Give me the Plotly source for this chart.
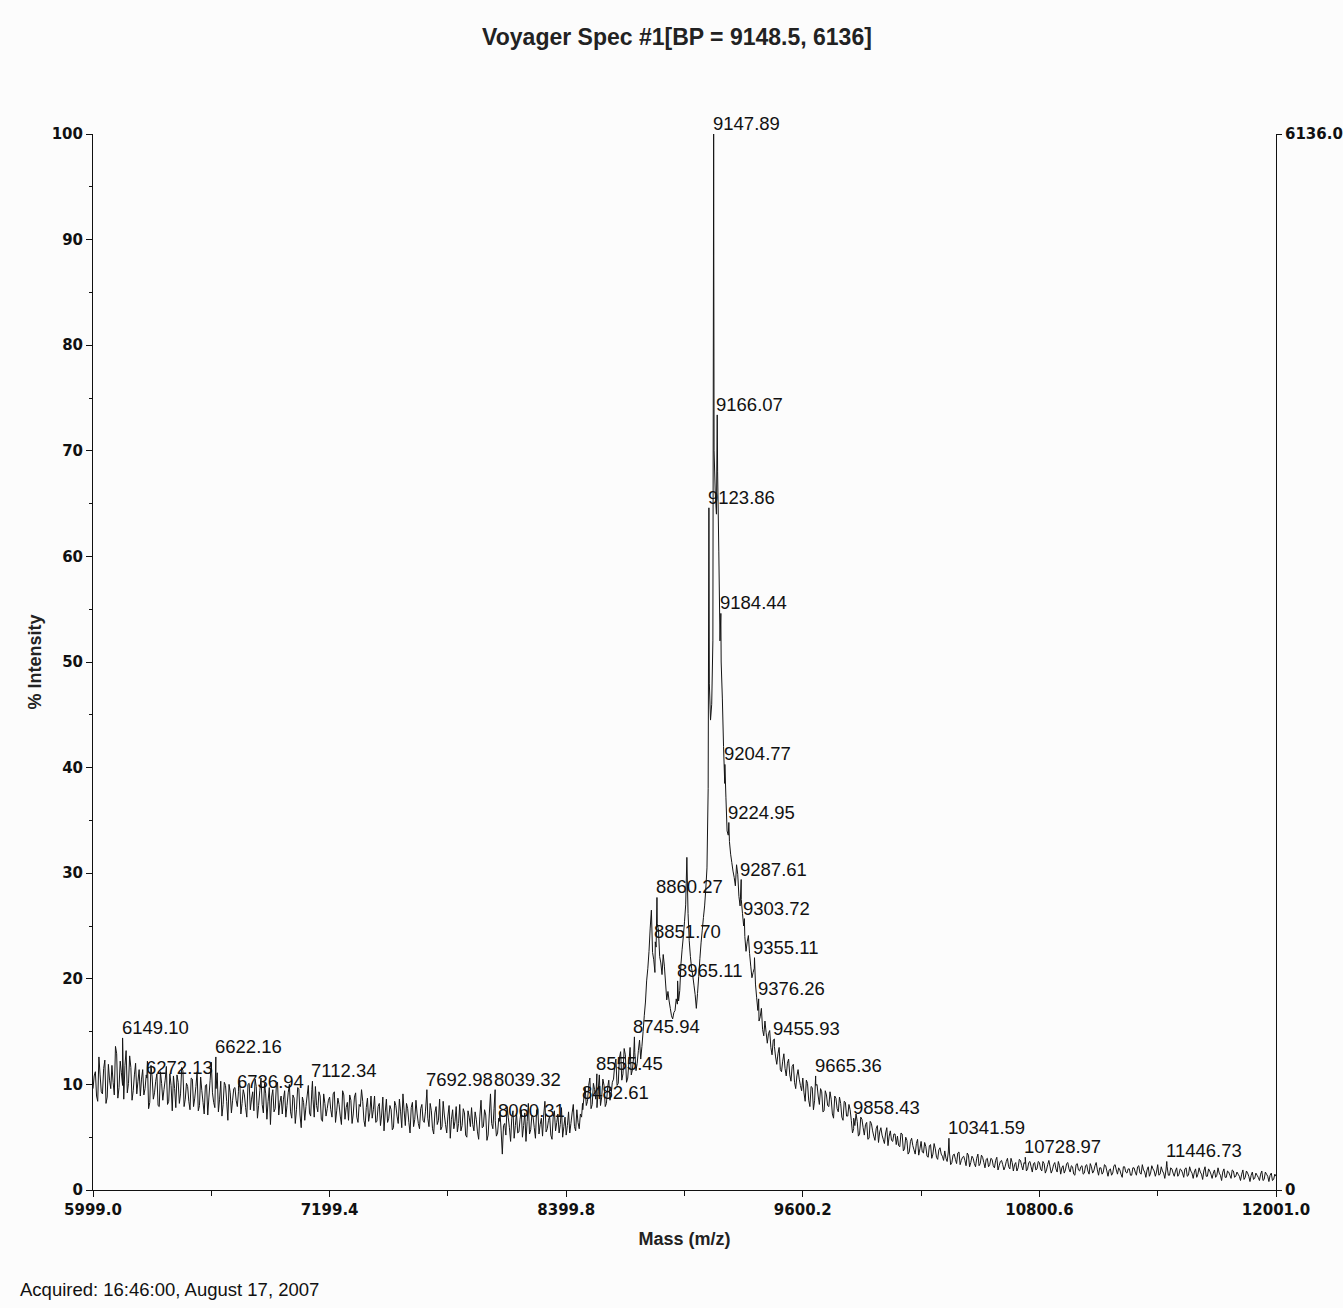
import numpy as np
import plotly.graph_objects as go

# Acquisition window (m/z) and channel intensities, % of base peak
mz_first = 5999.0
mz_last = 12001.0
intensity = [
    9.6, 11.2, 8.4, 10.9, 9.1, 12.3, 8.8, 10.4, 11.8, 9.0, 12.9, 9.7, 11.1, 8.6, 13.2, 10.1, 11.6, 9.4, 12.0, 10.3,
    8.9, 11.4, 9.6, 12.2, 8.3, 10.7, 9.2, 11.0, 7.9, 10.1, 9.5, 11.7, 8.4, 9.9, 10.8, 7.8, 10.2, 9.1, 11.3, 8.6,
    9.8, 7.6, 10.5, 8.7, 11.2, 8.0, 9.4, 7.2, 10.0, 8.8, 12.1, 8.3, 9.6, 7.4, 10.3, 8.1, 9.9, 6.6, 9.2, 8.5,
    9.7, 7.9, 10.4, 8.2, 9.0, 6.9, 10.1, 8.6, 7.5, 9.8, 8.0, 10.6, 7.3, 9.1, 8.4, 6.2, 9.5, 7.7, 10.2, 8.3,
    7.2, 9.4, 8.0, 10.0, 6.8, 8.7, 7.6, 9.6, 5.9, 8.3, 7.9, 9.9, 7.0, 8.6, 9.8, 7.4, 8.9, 6.5, 8.2, 7.7,
    8.8, 6.9, 9.3, 7.5, 8.1, 6.2, 9.0, 7.8, 6.6, 8.5, 7.2, 9.2, 6.4, 7.9, 8.4, 6.0, 8.7, 7.3, 6.8, 8.9,
    6.5, 8.2, 7.1, 5.6, 8.6, 6.8, 7.6, 5.9, 8.0, 6.3, 7.4, 9.1, 6.1, 7.7, 5.4, 8.3, 6.7, 7.2, 5.8, 8.1,
    6.4, 9.0, 6.0, 7.5, 5.3, 7.9, 6.6, 5.7, 8.4, 6.2, 7.0, 4.9, 7.6, 6.5, 5.5, 8.1, 6.1, 7.3, 5.0, 6.9,
    7.8, 5.6, 6.7, 4.8, 8.5, 6.0, 7.1, 5.2, 9.1, 5.8, 6.6, 5.4, 7.4, 3.4, 6.3, 7.9, 5.9, 6.8, 4.9, 7.3,
    5.5, 7.6, 6.1, 4.6, 8.2, 5.7, 6.9, 4.9, 7.7, 6.2, 5.1, 8.4, 5.8, 7.0, 4.8, 7.5, 6.4, 5.4, 7.8, 6.0,
    5.2, 7.4, 6.3, 8.1, 5.6, 6.4, 7.2, 7.6, 9.7, 8.4, 10.6, 8.1, 9.5, 7.8, 10.9, 8.8, 9.9, 8.2, 10.4, 9.1,
    10.5, 12.4, 10.1, 13.1, 11.0, 12.8, 10.6, 13.5, 11.4, 13.0, 12.0, 14.2, 13.6, 16.5, 19.8, 22.6, 26.5, 21.8, 23.0, 24.6,
    21.5, 22.3, 19.6, 18.8, 17.2, 16.2, 17.0, 17.6, 18.9, 22.8, 25.4, 31.5, 23.6, 21.0, 19.4, 17.2, 20.2, 23.4, 25.8, 28.5,
    38.0, 44.5, 52.0, 66.0, 68.0, 52.0, 46.5, 38.5, 34.0, 33.0, 31.0, 29.6, 30.8, 27.8, 27.5, 25.0, 22.6, 24.1, 21.2, 20.6,
    19.5, 17.0, 16.4, 15.2, 16.0, 13.9, 15.1, 12.8, 13.6, 11.9, 13.5, 11.2, 12.9, 10.8, 12.4, 10.3, 11.9, 9.6, 11.4, 9.9,
    10.6, 8.4, 10.1, 7.9, 9.7, 8.5, 10.0, 8.1, 9.3, 7.5, 9.0, 7.9, 8.6, 6.8, 8.7, 7.4, 8.2, 6.6, 8.3, 7.0,
    7.6, 5.4, 6.1, 6.5, 5.3, 6.7, 5.2, 6.4, 4.9, 6.3, 5.1, 5.8, 4.5, 5.9, 4.8, 5.4, 4.2, 5.6, 4.6, 5.3,
    5.1, 4.1, 5.3, 3.9, 4.7, 3.6, 4.9, 3.8, 4.4, 3.3, 4.6, 3.5, 4.1, 3.1, 4.3, 3.4, 3.9, 2.9, 4.0, 3.2,
    3.7, 2.7, 3.5, 2.6, 3.4, 2.5, 3.6, 2.8, 3.2, 2.3, 3.3, 2.6, 3.0, 2.2, 3.4, 2.5, 3.1, 2.1, 3.0, 2.4,
    2.9, 2.1, 3.1, 2.3, 2.8, 1.9, 2.7, 2.2, 3.0, 1.8, 2.6, 2.1, 2.8, 1.9, 2.5, 2.0, 2.7, 1.7, 2.6, 2.0,
    2.6, 1.8, 2.5, 1.9, 2.8, 1.6, 2.4, 2.0, 2.7, 1.5, 2.3, 1.9, 2.6, 1.7, 2.2, 1.4, 2.5, 1.8, 2.3, 1.6,
    2.4, 1.5, 2.2, 1.8, 2.6, 1.4, 2.1, 1.7, 2.3, 1.3, 2.0, 1.6, 2.4, 1.5, 1.9, 1.2, 2.2, 1.6, 2.0, 1.4,
    2.1, 1.4, 2.3, 1.5, 1.9, 1.2, 2.2, 1.6, 2.0, 1.3, 2.4, 1.5, 1.8, 1.1, 2.2, 1.4, 2.0, 1.3, 2.1, 1.5,
    1.9, 1.2, 2.1, 1.4, 1.8, 1.1, 2.0, 1.5, 1.7, 1.0, 2.2, 1.3, 1.8, 1.1, 1.9, 1.4, 1.6, 0.9, 2.0, 1.2,
    1.7, 1.1, 1.8, 1.3, 1.5, 0.9, 1.9, 1.2, 1.6, 0.8, 1.7, 1.1, 1.4, 0.9, 1.8, 1.0, 1.5, 0.8, 1.6, 1.0,
    1.3,
]

# Intensities of the interleaved channels (half-way between the ones above)
intensity_mid = [
    10.8, 8.9, 12.6, 9.3, 11.5, 8.2, 11.9, 9.6, 10.2, 13.6, 8.7, 12.2, 9.9, 11.8, 9.2, 12.7, 8.5, 10.9, 9.1, 11.4,
    10.5, 9.0, 10.9, 7.7, 11.8, 8.6, 10.3, 8.0, 11.2, 8.5, 10.4, 8.1, 11.0, 7.5, 9.6, 10.9, 8.2, 11.6, 7.9, 10.1,
    8.4, 10.6, 7.9, 9.8, 7.5, 10.7, 8.3, 9.9, 7.1, 10.4, 9.2, 7.8, 11.1, 8.6, 7.0, 10.2, 8.4, 10.0, 7.3, 9.6,
    8.5, 9.9, 7.2, 9.5, 7.8, 10.0, 7.6, 9.3, 10.5, 6.8, 9.4, 8.1, 10.1, 6.7, 9.7, 8.8, 7.4, 9.9, 7.1, 8.9,
    8.6, 6.9, 9.2, 7.4, 9.0, 6.3, 9.7, 7.1, 8.8, 6.6, 8.9, 7.3, 9.5, 6.9, 8.0, 9.3, 6.7, 9.1, 7.0, 8.5,
    7.6, 9.1, 6.4, 8.7, 7.0, 9.4, 6.7, 8.3, 9.0, 6.3, 8.8, 6.9, 8.1, 9.5, 6.6, 7.8, 6.5, 8.9, 7.6, 6.4,
    7.9, 6.1, 8.8, 7.3, 6.4, 8.0, 5.7, 8.4, 7.0, 8.6, 5.9, 7.5, 8.2, 6.4, 7.8, 6.0, 8.5, 6.3, 7.7, 6.6,
    7.4, 6.8, 8.2, 5.8, 7.3, 6.2, 8.6, 6.0, 7.1, 5.4, 8.0, 6.7, 5.8, 7.9, 6.3, 5.6, 7.7, 5.2, 7.5, 6.0,
    6.2, 7.4, 5.5, 7.0, 5.9, 7.6, 4.7, 7.2, 6.3, 7.7, 5.1, 6.8, 5.6, 6.1, 5.2, 6.9, 4.6, 7.5, 6.1, 5.4,
    6.7, 5.0, 7.3, 6.5, 5.3, 7.1, 5.9, 7.6, 5.3, 6.8, 7.1, 5.5, 6.6, 5.2, 6.9, 5.6, 7.2, 6.2, 5.0, 6.9,
    6.1, 5.4, 7.3, 6.0, 7.6, 5.8, 6.9, 8.8, 8.0, 9.9, 7.7, 10.1, 8.6, 9.3, 8.0, 10.5, 7.9, 9.7, 8.5, 10.2,
    11.8, 9.9, 12.5, 10.4, 13.4, 10.2, 12.1, 10.9, 12.6, 11.3, 13.2, 12.4, 15.0, 17.8, 21.0, 24.8, 22.5, 20.6, 25.2, 22.1,
    20.4, 21.2, 18.0, 17.9, 16.5, 16.8, 18.1, 17.9, 21.4, 24.0, 27.0, 26.2, 22.1, 20.3, 18.5, 18.6, 21.9, 24.6, 26.9, 30.5,
    48.0, 46.0, 70.0, 64.0, 60.5, 50.0, 42.0, 37.2, 33.6, 31.8, 30.2, 28.8, 29.9, 26.9, 26.2, 24.0, 23.5, 22.4, 20.1, 21.0,
    18.2, 16.0, 17.2, 14.6, 14.9, 14.8, 13.5, 14.2, 12.6, 12.9, 11.4, 12.2, 11.5, 12.0, 10.9, 11.7, 10.2, 10.8, 10.5, 9.4,
    9.2, 10.4, 8.5, 9.8, 7.6, 9.9, 8.9, 9.6, 7.4, 9.4, 8.0, 9.3, 7.2, 8.9, 7.7, 8.8, 6.9, 8.4, 7.0, 8.1,
    6.6, 5.8, 7.2, 5.1, 6.9, 5.9, 6.2, 4.8, 6.5, 5.6, 4.7, 6.1, 5.5, 5.2, 4.4, 5.9, 5.1, 4.7, 5.3, 4.3,
    4.2, 5.4, 3.7, 5.0, 3.4, 4.6, 4.2, 3.4, 4.8, 3.9, 3.6, 4.5, 3.2, 4.2, 3.0, 4.4, 3.1, 3.8, 3.4, 2.8,
    3.0, 3.6, 2.4, 3.3, 2.9, 3.5, 2.4, 3.1, 2.8, 3.5, 2.2, 3.2, 2.5, 3.0, 2.3, 3.3, 2.6, 2.9, 2.2, 3.0,
    2.3, 2.8, 1.9, 2.7, 2.4, 2.2, 3.0, 2.0, 2.6, 2.4, 1.8, 2.9, 2.3, 2.6, 1.8, 2.6, 2.2, 2.5, 1.9, 2.7,
    2.0, 2.7, 1.6, 2.4, 2.2, 1.9, 2.6, 1.7, 2.3, 2.1, 1.6, 2.5, 2.0, 2.3, 1.5, 2.4, 1.9, 2.2, 1.5, 2.3,
    1.8, 2.5, 1.6, 2.3, 1.9, 2.1, 1.5, 2.4, 1.8, 1.9, 1.4, 2.3, 1.9, 2.1, 1.5, 2.2, 1.7, 2.0, 1.4, 2.1,
    1.7, 2.2, 1.6, 2.4, 1.7, 1.9, 1.3, 2.3, 1.8, 1.7, 1.4, 2.2, 1.6, 1.9, 1.4, 2.1, 1.6, 1.8, 1.3, 2.0,
    1.6, 2.0, 1.3, 2.2, 1.6, 1.7, 1.2, 2.1, 1.5, 1.8, 1.3, 2.0, 1.5, 1.6, 1.2, 2.1, 1.4, 1.7, 1.2, 1.8,
    1.4, 1.9, 1.2, 1.7, 1.3, 1.5, 1.0, 1.8, 1.3, 1.4, 1.0, 1.6, 1.2, 1.5, 0.9, 1.7, 1.3, 1.4, 0.9, 1.5,
]

# Centroided peaks that carry an m/z label
peak_mz = [
    6149.10, 6272.13, 6622.16, 6736.94, 7112.34, 7692.98, 8039.32, 8060.31,
    8482.61, 8555.45, 8745.94, 8851.70, 8860.27, 8965.11, 9123.86, 9147.89,
    9166.07, 9184.44, 9204.77, 9224.95, 9287.61, 9303.72, 9355.11, 9376.26,
    9455.93, 9665.36, 9858.43, 10341.59, 10728.97, 11446.73,
]
peak_int = [
    14.4, 10.6, 12.6, 9.3, 10.3, 9.5, 9.5, 6.5,
    8.2, 11.0, 14.5, 23.5, 27.7, 19.8, 64.6, 100.0,
    73.4, 54.6, 40.3, 34.8, 29.4, 25.7, 22.0, 18.1,
    14.3, 10.8, 6.8, 4.9, 3.1, 2.7,
]

# Axis ticks
x_tickvals = [5999.0, 7199.4, 8399.8, 9600.2, 10800.6, 12001.0]
x_minorvals = [6599.2, 7799.6, 9000.0, 10200.4, 11400.8]
y_tickvals = [0, 10, 20, 30, 40, 50, 60, 70, 80, 90, 100]
counts_tickvals = [0, 6136]
counts_ticktext = ["0", "6136.0"]

# Channel m/z positions, interleaved channels, labelled centroids, all in m/z order
mz_grid = np.linspace(mz_first, mz_last, len(intensity))
mz_mid = (mz_grid[:-1] + mz_grid[1:]) / 2
mz_all = np.concatenate([mz_grid, mz_mid, np.array(peak_mz)])
int_all = np.concatenate([np.array(intensity), np.array(intensity_mid), np.array(peak_int)])
order = np.argsort(mz_all, kind="stable")
mz_all = mz_all[order]
int_all = int_all[order]

TICK_FONT = dict(family="DejaVu Sans", size=15, color="#111111", weight="bold")
LABEL_FONT = dict(family="Liberation Sans, Arial", size=18.5, color="#111111")
AXIS_TITLE_FONT = dict(family="Liberation Sans, Arial", size=18, color="#222222", weight="bold")

fig = go.Figure()
fig.add_trace(go.Scatter(
    x=mz_all, y=int_all, mode="lines",
    line=dict(color="#151515", width=1, simplify=False),
    hoverinfo="x+y", showlegend=False,
))
# Absolute-count scale on the right
fig.add_trace(go.Scatter(x=[], y=[], yaxis="y2", showlegend=False))

for mz, val in zip(peak_mz, peak_int):
    fig.add_annotation(
        x=mz, y=val, text=f"{mz:.2f}", showarrow=False,
        xanchor="left", yanchor="bottom", xshift=-3, yshift=-2,
        font=LABEL_FONT,
    )

fig.add_annotation(
    xref="paper", yref="paper", x=(18 - 93) / 1183, y=(1190 - 1289) / 1056,
    text="Acquired: 16:46:00, August 17, 2007", showarrow=False,
    xanchor="left", yanchor="middle",
    font=dict(family="Liberation Sans, Arial", size=18.5, color="#111111"),
)

fig.update_layout(
    width=1343, height=1308,
    margin=dict(l=93, r=67, t=134, b=118, autoexpand=False),
    paper_bgcolor="#fcfcfc", plot_bgcolor="#fcfcfc",
    showlegend=False,
    title=dict(
        text="Voyager Spec #1[BP = 9148.5, 6136]",
        xref="container", yref="container",
        x=677 / 1343, xanchor="center", y=1 - 37 / 1308, yanchor="middle",
        font=dict(family="Liberation Sans, Arial", size=23, color="#222222", weight="bold"),
    ),
    xaxis=dict(
        range=[mz_first, mz_last], tickmode="array",
        tickvals=x_tickvals, ticktext=[f"{v:.1f}" for v in x_tickvals],
        ticks="outside", ticklen=6, tickcolor="#111111",
        showline=True, linecolor="#111111", linewidth=1,
        showgrid=False, zeroline=False, tickfont=TICK_FONT, automargin=False,
        minor=dict(tickvals=x_minorvals, ticks="outside", ticklen=5, tickcolor="#111111"),
        title=dict(text="Mass (m/z)", standoff=14, font=AXIS_TITLE_FONT),
    ),
    yaxis=dict(
        range=[0, 100], tickmode="array", tickvals=y_tickvals,
        ticks="outside", ticklen=6, tickcolor="#111111",
        showline=True, linecolor="#111111", linewidth=1,
        showgrid=False, zeroline=False, tickfont=TICK_FONT, automargin=False,
        minor=dict(tick0=0, dtick=5, ticks="outside", ticklen=3, tickcolor="#111111"),
        title=dict(text="% Intensity", standoff=5, font=AXIS_TITLE_FONT),
    ),
    yaxis2=dict(
        overlaying="y", side="right", range=[0, 6136],
        tickmode="array", tickvals=counts_tickvals, ticktext=counts_ticktext,
        ticks="outside", ticklen=5, tickcolor="#111111",
        showline=True, linecolor="#111111", linewidth=1,
        showgrid=False, zeroline=False, tickfont=TICK_FONT, automargin=False,
    ),
)

fig.write_html("out.html")
